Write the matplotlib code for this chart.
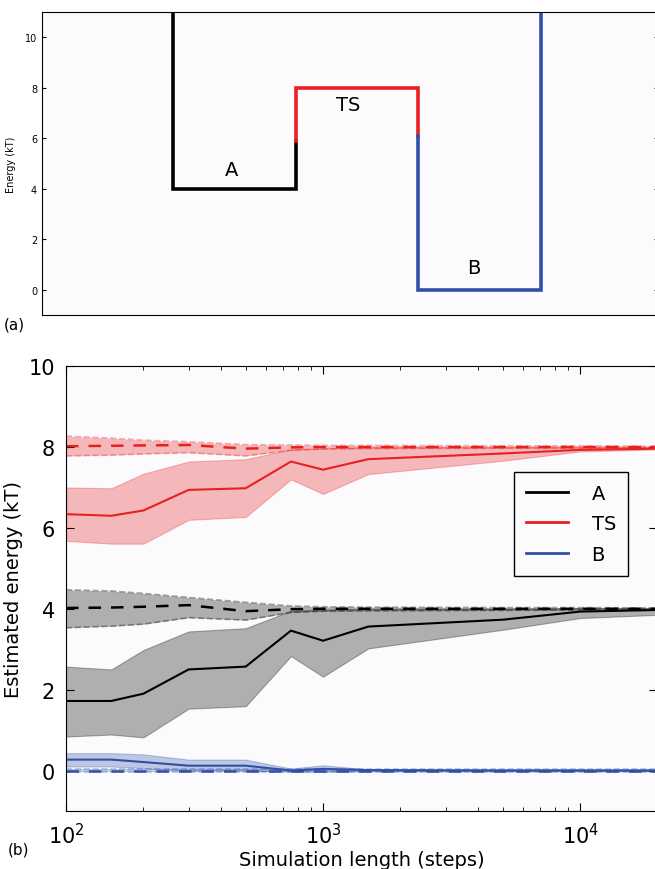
import matplotlib
matplotlib.use("Agg")
import matplotlib.pyplot as plt

# --- data ---
# (a) model potential: well edges and levels
edges = [0, 1, 2, 3]
E_A, E_TS, E_B = 4.0, 8.0, 0.0
E_wall = 12.0
split_left, split_right = 5.9, 6.1
labels_a = ["A", "TS", "B"]
label_pos = [(0.48, 4.74), (1.43, 7.35), (2.45, 0.87)]

# (b) estimates vs simulation length
steps = [100, 150, 200, 300, 500, 750, 1000, 1500, 5000, 10000, 20000]

A_mean = [1.72, 1.72, 1.90, 2.50, 2.57, 3.46, 3.21, 3.56, 3.73, 3.93, 3.97]
A_hi = [2.57, 2.50, 2.98, 3.44, 3.52, 3.95, 3.98, 4.00, 4.00, 4.02, 4.02]
A_lo = [0.84, 0.89, 0.82, 1.53, 1.59, 2.83, 2.32, 3.02, 3.48, 3.77, 3.85]
A_ref = [4.02, 4.03, 4.05, 4.09, 3.94, 3.99, 4.00, 4.00, 4.00, 4.00, 4.00]
A_ref_hi = [4.47, 4.44, 4.38, 4.28, 4.16, 4.07, 4.05, 4.04, 4.03, 4.03, 4.02]
A_ref_lo = [3.53, 3.57, 3.62, 3.78, 3.72, 3.91, 3.94, 3.95, 3.96, 3.97, 3.98]

TS_mean = [6.34, 6.30, 6.43, 6.94, 6.98, 7.64, 7.44, 7.70, 7.84, 7.93, 7.96]
TS_hi = [7.00, 6.98, 7.34, 7.64, 7.70, 7.94, 7.97, 8.00, 8.00, 8.01, 8.01]
TS_lo = [5.68, 5.61, 5.61, 6.20, 6.27, 7.20, 6.84, 7.33, 7.66, 7.89, 7.94]
TS_ref = [8.02, 8.03, 8.04, 8.05, 7.96, 7.99, 8.00, 8.00, 8.00, 8.00, 8.00]
TS_ref_hi = [8.27, 8.22, 8.17, 8.13, 8.06, 8.05, 8.04, 8.04, 8.03, 8.03, 8.02]
TS_ref_lo = [7.78, 7.80, 7.83, 7.86, 7.78, 7.92, 7.95, 7.96, 7.97, 7.97, 7.98]

B_mean = [0.27, 0.27, 0.21, 0.12, 0.12, 0.00, 0.04, 0.01, 0.00, 0.00, 0.00]
B_hi = [0.43, 0.43, 0.40, 0.27, 0.27, 0.05, 0.13, 0.03, 0.02, 0.02, 0.02]
B_lo = [0.10, 0.10, 0.06, 0.00, 0.00, -0.03, -0.03, -0.02, -0.02, -0.02, -0.02]
B_ref = [0.00] * len(steps)
B_ref_hi = [0.03] * len(steps)
B_ref_lo = [-0.03] * len(steps)

black = "black"
red = "#e82020"
blue = "#3050a8"
bg = "#fbfbfd"

fig = plt.figure(figsize=(6.55, 8.7), dpi=100, facecolor="white")

# ---------- (a) ----------
ax1 = fig.add_axes([0.064, 0.637, 0.940, 0.348], facecolor=bg)
lw = 2.6
ax1.plot([edges[0], edges[0], edges[1], edges[1]],
         [E_wall, E_A, E_A, split_left], color=black, lw=lw,
         solid_joinstyle="miter")
ax1.plot([edges[1], edges[1], edges[2], edges[2]],
         [split_left, E_TS, E_TS, split_right], color=red, lw=lw,
         solid_joinstyle="miter")
ax1.plot([edges[2], edges[2], edges[3], edges[3]],
         [split_right, E_B, E_B, E_wall], color=blue, lw=lw,
         solid_joinstyle="miter")
for lab, (x, y) in zip(labels_a, label_pos):
    ax1.text(x, y, lab, fontsize=14, ha="center", va="center")
ax1.set_xlim(-1.07, 3.95)
ax1.set_ylim(-1, 11)
ax1.set_xticks([])
ax1.set_yticks([0, 2, 4, 6, 8, 10])
ax1.tick_params(axis="y", direction="in", right=True, labelsize=7, length=3)
ax1.set_ylabel("Energy (kT)", fontsize=7, labelpad=6)
fig.text(0.006, 0.626, "(a)", fontsize=11, va="center")

# ---------- (b) ----------
ax2 = fig.add_axes([0.1008, 0.0667, 0.903, 0.5113], facecolor=bg)

def series(mean, lo, hi, ref, rlo, rhi, color, name):
    ax2.fill_between(steps, rlo, rhi, color=color, alpha=0.3, lw=0)
    ax2.plot(steps, rlo, color=color, alpha=0.35, lw=1.2, ls="--")
    ax2.plot(steps, rhi, color=color, alpha=0.35, lw=1.2, ls="--")
    ax2.plot(steps, ref, color=color, lw=1.8, ls="--", dashes=(5, 4))
    ax2.fill_between(steps, lo, hi, color=color, alpha=0.3, lw=0.8,
                     edgecolor=color)
    ax2.plot(steps, mean, color=color, lw=1.5, label=name)

series(A_mean, A_lo, A_hi, A_ref, A_ref_lo, A_ref_hi, black, "A")
series(TS_mean, TS_lo, TS_hi, TS_ref, TS_ref_lo, TS_ref_hi, red, "TS")
series(B_mean, B_lo, B_hi, B_ref, B_ref_lo, B_ref_hi, blue, "B")

ax2.set_xscale("log")
ax2.set_xlim(100, 2e4)
ax2.set_ylim(-1, 10)
ax2.set_yticks([0, 2, 4, 6, 8, 10])
ax2.tick_params(which="both", direction="in", top=True, right=True,
                labelsize=15)
ax2.tick_params(which="major", length=6, pad=8)
ax2.tick_params(which="minor", length=3)
ax2.set_xlabel("Simulation length (steps)", fontsize=14, labelpad=2)
ax2.set_ylabel("Estimated energy (kT)", fontsize=14, labelpad=4)
leg = ax2.legend(loc="upper right", bbox_to_anchor=(0.966, 0.784),
                 fontsize=14, fancybox=False, edgecolor="black",
                 handlelength=2.2, handletextpad=1.2, borderpad=0.6,
                 labelspacing=0.6, framealpha=1)
leg.get_frame().set_facecolor(bg)
for h in leg.get_lines():
    h.set_linewidth(2)
fig.text(0.012, 0.023, "(b)", fontsize=11, va="center")

fig.savefig("out.png", dpi=100, facecolor="white")
